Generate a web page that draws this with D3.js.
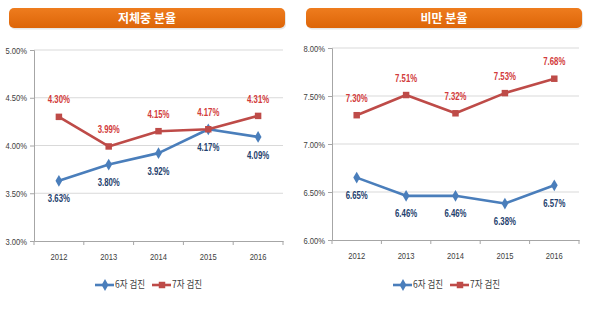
<!DOCTYPE html>
<html>
<head>
<meta charset="utf-8">
<script src="https://cdn.jsdelivr.net/npm/d3@7"></script>
<style>
  body { margin: 0; background: #fff; }
  svg { display: block; }
  .tick text { font-family: "Liberation Sans", sans-serif; }
</style>
</head>
<body>
<div id="canvas"></div>
<script>
const years = ["2012", "2013", "2014", "2015", "2016"];
const seriesNames = ["6자 검진", "7자 검진"];

// 저체중 분율
const under6 = [3.63, 3.80, 3.92, 4.17, 4.09];
const under7 = [4.30, 3.99, 4.15, 4.17, 4.31];
const underTicks = [3.0, 3.5, 4.0, 4.5, 5.0];

// 비만 분율
const obese6 = [6.65, 6.46, 6.46, 6.38, 6.57];
const obese7 = [7.30, 7.51, 7.32, 7.53, 7.68];
const obeseTicks = [6.0, 6.5, 7.0, 7.5, 8.0];

const width = 600;
const height = 314;
const blue = "#4a7ebb";
const red = "#be4b48";

const svg = d3.select("#canvas").append("svg")
  .attr("width", width)
  .attr("height", height);

// squeeze text horizontally, like the narrow Calibri of the original
function narrow(sel, k) {
  sel.attr("textLength", function () { return this.getComputedTextLength() * k; })
    .attr("lengthAdjust", "spacingAndGlyphs");
}

const defs = svg.append("defs");
const grad = defs.append("linearGradient")
  .attr("id", "titleGrad")
  .attr("x1", 0).attr("y1", 0).attr("x2", 0).attr("y2", 1);
grad.append("stop").attr("offset", "0%").attr("stop-color", "#ee7c1e");
grad.append("stop").attr("offset", "100%").attr("stop-color", "#dd6508");

function drawPanel(opt) {
  const g = svg.append("g");

  // title bar
  g.append("rect")
    .attr("x", opt.titleX + 1).attr("y", 9.5)
    .attr("width", opt.titleW).attr("height", 20)
    .attr("rx", 5)
    .attr("fill", "#d0d0d0")
    .attr("opacity", 0.5);
  g.append("rect")
    .attr("x", opt.titleX).attr("y", 8)
    .attr("width", opt.titleW).attr("height", 20)
    .attr("rx", 5)
    .attr("fill", "url(#titleGrad)");
  g.append("text")
    .attr("x", opt.titleX + opt.titleW / 2).attr("y", 22.5)
    .attr("text-anchor", "middle")
    .attr("fill", "#fff")
    .attr("font-family", "Noto Sans CJK KR")
    .attr("font-weight", "bold")
    .attr("font-size", 12)
    .text(opt.title);

  const x = d3.scaleBand()
    .domain(years)
    .range([opt.left, opt.right]);

  const y = d3.scaleLinear()
    .domain([opt.ticks[0], opt.ticks[opt.ticks.length - 1]])
    .range([opt.bottom, opt.top]);

  // gridlines
  g.append("g")
    .selectAll("line")
    .data(opt.ticks.slice(1))
    .join("line")
    .attr("x1", opt.left).attr("x2", opt.right)
    .attr("y1", (d) => y(d)).attr("y2", (d) => y(d))
    .attr("stroke", "#d9d9d9")
    .attr("stroke-width", 1);

  const yAxis = g.append("g")
    .attr("transform", `translate(${opt.left},0)`)
    .call(d3.axisLeft(y).tickValues(opt.ticks).tickSize(4).tickPadding(3)
      .tickFormat((d) => d.toFixed(2) + "%"));
  yAxis.select(".domain").attr("stroke", "#a6a6a6");
  yAxis.selectAll(".tick line").attr("stroke", "#a6a6a6");
  yAxis.selectAll(".tick text").attr("fill", "#404040").attr("font-size", 9.5)
    .call(narrow, 0.8);

  const xAxis = g.append("g")
    .attr("transform", `translate(0,${opt.bottom})`)
    .call(d3.axisBottom(x).tickSize(0).tickPadding(12));
  xAxis.select(".domain").attr("stroke", "#a6a6a6");
  xAxis.selectAll(".tick text").attr("fill", "#404040").attr("font-size", 9.5)
    .call(narrow, 0.8);
  // category boundary ticks
  xAxis.append("g")
    .selectAll("line")
    .data(years)
    .join("line")
    .attr("x1", (d) => x(d) + x.bandwidth()).attr("x2", (d) => x(d) + x.bandwidth())
    .attr("y1", 0).attr("y2", 4)
    .attr("stroke", "#a6a6a6");
  xAxis.append("line")
    .attr("x1", opt.left).attr("x2", opt.left)
    .attr("y1", 0).attr("y2", 4)
    .attr("stroke", "#a6a6a6");

  const cx = (i) => x(years[i]) + x.bandwidth() / 2;
  const line = d3.line()
    .x((d, i) => cx(i))
    .y((d) => y(d));

  const series = [
    { values: opt.s6, color: blue, shape: d3.symbolDiamond, size: 40, labelColor: "#1f3f6e", dy: 19 },
    { values: opt.s7, color: red, shape: d3.symbolSquare, size: 42, labelColor: "#d23b3b", dy: -16 }
  ];

  series.forEach((s) => {
    g.append("path")
      .datum(s.values)
      .attr("d", line)
      .attr("fill", "none")
      .attr("stroke", s.color)
      .attr("stroke-width", 2.6)
      .attr("stroke-linejoin", "round");

    g.append("g")
      .selectAll("path")
      .data(s.values)
      .join("path")
      .attr("transform", (d, i) => `translate(${cx(i)},${y(d)})`)
      .attr("d", d3.symbol().type(s.shape).size(s.size))
      .attr("fill", s.color);

    g.append("g")
      .selectAll("text")
      .data(s.values)
      .join("text")
      .attr("x", (d, i) => cx(i))
      .attr("y", (d) => y(d) + s.dy)
      .attr("text-anchor", "middle")
      .attr("dominant-baseline", "middle")
      .attr("font-family", "Liberation Sans, sans-serif")
      .attr("font-weight", "bold")
      .attr("font-size", 10)
      .attr("fill", s.labelColor)
      .text((d) => d.toFixed(2) + "%")
      .call(narrow, 0.78);
  });

  // legend
  const lg = g.append("g").attr("transform", `translate(${opt.legendX},285)`);
  series.forEach((s, i) => {
    const item = lg.append("g").attr("transform", `translate(${i * 57},0)`);
    item.append("line")
      .attr("x1", 0).attr("x2", 19)
      .attr("stroke", s.color).attr("stroke-width", 2.6);
    item.append("path")
      .attr("transform", "translate(10,0)")
      .attr("d", d3.symbol().type(s.shape).size(s.size))
      .attr("fill", s.color);
    item.append("text")
      .attr("x", 20).attr("y", 0.5)
      .attr("dominant-baseline", "middle")
      .attr("font-family", "Noto Sans CJK KR")
      .attr("font-size", 10)
      .attr("fill", "#404040")
      .text(seriesNames[i])
      .call(narrow, 0.85);
  });
}

drawPanel({
  title: "저체중 분율", titleX: 9, titleW: 276,
  left: 34, right: 283, top: 50, bottom: 241,
  ticks: underTicks, s6: under6, s7: under7, legendX: 95
});

drawPanel({
  title: "비만 분율", titleX: 306, titleW: 276,
  left: 332, right: 579, top: 48, bottom: 240,
  ticks: obeseTicks, s6: obese6, s7: obese7, legendX: 393
});
</script>
</body>
</html>
